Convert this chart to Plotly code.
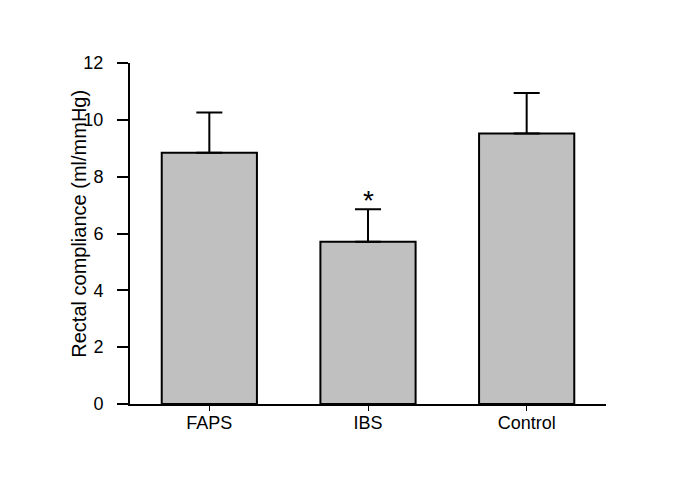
import plotly.graph_objects as go

categories = ["FAPS", "IBS", "Control"]
means = [8.84, 5.71, 9.52]
sem_upper = [1.42, 1.14, 1.42]
y_ticks = [0, 2, 4, 6, 8, 10, 12]
y_title = "Rectal compliance (ml/mmHg)"
sig_marks = ["", "*", ""]

FONT = "Liberation Sans, Arial, sans-serif"

fig = go.Figure()
fig.add_trace(go.Bar(
    x=categories,
    y=means,
    width=0.6,
    marker=dict(color="#c0c0c0", line=dict(color="black", width=2)),
    error_y=dict(type="data", symmetric=False, array=sem_upper,
                 arrayminus=[0] * len(means), color="black",
                 thickness=2, width=13),
    showlegend=False,
))

for cat, m, e, s in zip(categories, means, sem_upper, sig_marks):
    if s:
        fig.add_annotation(x=cat, y=m + e, text=s, showarrow=False,
                           yanchor="bottom", yshift=-9,
                           font=dict(family=FONT, size=28, color="black"))

fig.add_annotation(xref="paper", yref="paper", x=-0.109, y=0.529,
                   text=y_title, textangle=-90, showarrow=False,
                   xanchor="center", yanchor="middle",
                   font=dict(family=FONT, size=20, color="black"))

fig.update_layout(
    width=677, height=476, autosize=False,
    margin=dict(l=122, r=79, t=55, b=80),
    paper_bgcolor="white", plot_bgcolor="white",
    font=dict(family=FONT, color="black"),
    bargap=0.4,
)
fig.update_xaxes(
    range=[-0.5, 2.5], showline=True, linecolor="black", linewidth=2,
    ticks="outside", ticklen=5, tickwidth=1, tickcolor="black",
    ticklabelstandoff=-4,
    tickfont=dict(family=FONT, size=18, color="black"),
    showgrid=False, zeroline=False,
)
fig.update_yaxes(
    range=[0, 12], tickvals=y_ticks, showline=True, linecolor="black", linewidth=2,
    ticks="outside", ticklen=11, tickwidth=2, tickcolor="black",
    ticklabelstandoff=10,
    tickfont=dict(family=FONT, size=18, color="black"),
    showgrid=False, zeroline=False,
)

fig.write_html("out.html")
